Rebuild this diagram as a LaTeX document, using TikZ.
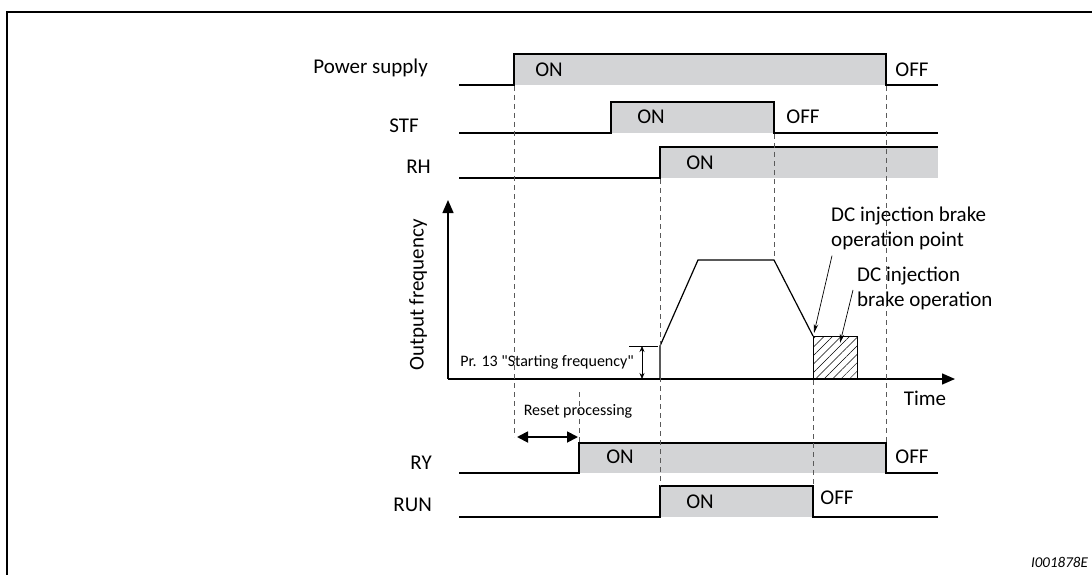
\documentclass[tikz,border=0pt]{standalone}
\usepackage{fontspec}
\setmainfont{Carlito}
\newfontfamily\plainquotes{Carlito}
\usepackage{tikz}
\usetikzlibrary{arrows.meta,patterns.meta}
\usepackage{xcolor}
\definecolor{sigfill}{RGB}{211,212,214}
\definecolor{guideline}{RGB}{90,90,90}

\begin{document}
\begin{tikzpicture}[
    x=1pt, y=-1pt,
    sigline/.style={line width=1.2pt, line join=miter},
    high/.style={fill=sigfill, draw=none},
    guide/.style={draw=guideline, line width=0.8pt, dash pattern=on 5pt off 4pt},
    lbl/.style={font=\fontsize{21}{25}\selectfont, inner sep=0pt},
    siglabel/.style={lbl, anchor=east},
    small/.style={font=\fontsize{16}{19}\selectfont, inner sep=0pt},
    axis/.style={line width=1.4pt, -{Triangle[length=13pt,width=11pt]}},
    pointer/.style={line width=0.7pt, -{Stealth[length=9pt,width=4.5pt]}}
]
    \useasboundingbox (0,0) rectangle (1092,575);
    % Frame
    \draw[line width=2pt] (7,580) -- (7,12) -- (1097,12);

    % Power supply
    \fill[high] (514,54) rectangle (886,85);
    \draw[sigline] (459,85) -- (514,85) -- (514,54) -- (886,54) -- (886,85) -- (938,85);
    \node[siglabel] (pwr) at (428,68) {Power supply};
    \node[lbl] (pwron) at (549,70) {ON};
    \node[lbl] (pwroff) at (912,70) {OFF};

    % STF
    \fill[high] (611,102) rectangle (774,133);
    \draw[sigline] (459,133) -- (611,133) -- (611,102) -- (774,102) -- (774,133) -- (938,133);
    \node[siglabel] (stf) at (419,126) {STF};
    \node[lbl] (stfon) at (651,117) {ON};
    \node[lbl] (stfoff) at (803,117) {OFF};

    % RH
    \fill[high] (660,147) rectangle (938,178);
    \draw[sigline] (459,178) -- (660,178) -- (660,147) -- (938,147);
    \node[siglabel] (rh) at (431,167) {RH};
    \node[lbl] (rhon) at (700,163) {ON};

    % Output frequency
    \draw[axis] (448,379) -- (448,200);
    \draw[axis] (448,379) -- (955,379);
    \node[lbl, rotate=90] (outf) at (418,295) {Output frequency};
    \node[lbl] (time) at (925,398) {Time};
    \draw[sigline] (660,379) -- (660,346) -- (698,260) -- (774,260) -- (813,336);
    \draw[line width=1pt, pattern={Lines[angle=45,distance=6pt,line width=0.5pt]}] (813,336) rectangle (857,379);
    \coordinate (brkpt) at (814,333);
    \coordinate (brkbox) at (840,343);

    % Starting frequency
    \draw[line width=0.7pt] (629,346) -- (658,346);
    \draw[line width=0.7pt, {Stealth[length=6pt,width=5pt]}-{Stealth[length=6pt,width=5pt]}] (642,346) -- (642,379);
    \node[small, anchor=east] (startf) at (634,362) {\plainquotes Pr. 13 "Starting frequency"};

    % DC injection brake
    \node[lbl, anchor=west, align=left] (dcpt) at (831,228) {DC injection brake\\operation point};
    \node[lbl, anchor=west, align=left] (dcop) at (857,288) {DC injection\\brake operation};
    \draw[pointer] ([shift={(1,6)}]dcpt.south west) -- (brkpt);
    \draw[pointer] ([shift={(-4,2)}]dcop.west) -- (brkbox);

    % Reset processing
    \node[small] (reset) at (578,411) {Reset processing};
    \draw[line width=1.8pt, {Triangle[length=11pt,width=11pt]}-{Triangle[length=11pt,width=11pt]}] (517,437) -- (578,437);

    % RY
    \fill[high] (579,443) rectangle (886,473);
    \draw[sigline] (459,473) -- (579,473) -- (579,443) -- (886,443) -- (886,473) -- (938,473);
    \node[siglabel] (ry) at (432,463) {RY};
    \node[lbl] (ryon) at (620,457) {ON};
    \node[lbl] (ryoff) at (912,457) {OFF};

    % RUN
    \fill[high] (660,486) rectangle (813,517);
    \draw[sigline] (459,517) -- (660,517) -- (660,486) -- (813,486) -- (813,517) -- (938,517);
    \node[siglabel] (run) at (432,505) {RUN};
    \node[lbl] (runon) at (700,502) {ON};
    \node[lbl] (runoff) at (837,498) {OFF};

    % Timing guides
    \draw[guide] (514,86) -- (514,437);
    \draw[guide] (579,392) -- (579,443);
    \draw[guide] (660,179) -- (660,486);
    \draw[guide] (774,134) -- (774,260);
    \draw[guide] (813,380) -- (813,486);
    \draw[guide] (886,86) -- (886,443);

    \node[font=\fontsize{15}{18}\selectfont\itshape, anchor=east, inner sep=0pt] (fig) at (1088,562) {I001878E};
\end{tikzpicture}
\end{document}
